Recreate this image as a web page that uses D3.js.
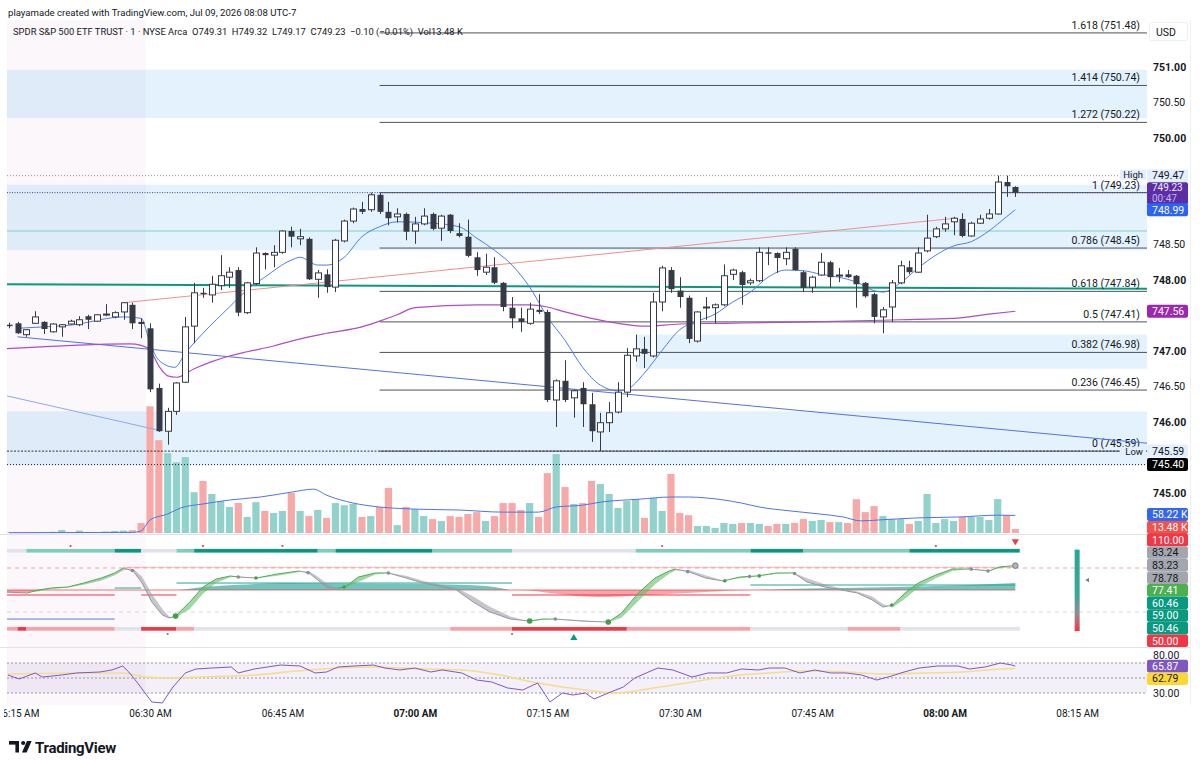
<!DOCTYPE html>
<html>
<head>
<meta charset="utf-8">
<title>SPY 1m</title>
<script src="https://cdn.jsdelivr.net/npm/d3@7/dist/d3.min.js"></script>
<style>
  body { margin: 0; background: #fff; }
  svg text { font-family: Roboto, "Noto Sans", "Liberation Sans", sans-serif; }
</style>
</head>
<body>
<div id="chart"></div>
<script>
// ---- data: one candle per minute, index = minutes after 06:30 ----
const candleIdx = d3.range(-16, 99);
const opens = [
  747.37, 747.39, 747.23, 747.39, 747.41, 747.27, 747.34, 747.38, 747.37, 747.49, 747.42, 747.51, 747.48, 747.55, 747.65, 747.41,
  747.32, 746.48, 745.87, 746.15, 746.56, 747.35, 747.82, 747.79, 747.92, 748.04,
  748.14, 747.54, 747.95, 748.38, 748.35, 748.39, 748.69, 748.58, 748.58, 748.01,
  748.08, 747.90, 748.55, 748.83, 749.00, 748.99, 749.20, 748.96, 748.89, 748.93,
  748.69, 748.79, 748.93, 748.73, 748.92, 748.66, 748.61, 748.32, 748.11, 748.18,
  747.96, 747.61, 747.46, 747.39, 747.58, 747.55, 746.31, 746.58, 746.34, 746.48,
  746.25, 745.86, 745.99, 746.14, 746.42, 746.93, 747.03, 746.93, 747.69, 748.14,
  747.85, 747.75, 747.14, 747.61, 747.61, 747.65, 748.08, 748.11, 747.96, 747.99,
  748.39, 748.38, 748.30, 748.44, 748.11, 747.90, 748.07, 748.25, 748.06, 748.08,
  748.06, 747.96, 747.80, 747.48, 747.62, 747.96, 748.18, 748.11, 748.41, 748.61,
  748.72, 748.82, 748.86, 748.62, 748.80, 748.87, 748.93, 749.38, 749.31
];
const highs = [
  747.40, 747.41, 747.31, 747.56, 747.42, 747.39, 747.38, 747.44, 747.49, 747.51, 747.52, 747.66, 747.56, 747.69, 747.68, 747.46,
  747.39, 746.54, 746.20, 746.56, 747.48, 747.96, 747.89, 748.06, 748.35, 748.18,
  748.18, 747.97, 748.46, 748.39, 748.49, 748.70, 748.75, 748.72, 748.60, 748.14,
  748.15, 748.58, 748.85, 749.02, 749.10, 749.23, 749.23, 749.10, 749.01, 748.95,
  748.89, 749.01, 748.95, 748.92, 748.93, 748.80, 748.85, 748.39, 748.37, 748.32,
  747.97, 747.76, 747.61, 747.68, 747.80, 747.58, 746.60, 746.87, 746.46, 746.56,
  746.41, 746.13, 746.28, 746.56, 747.04, 747.23, 747.20, 747.82, 748.20, 748.18,
  748.04, 747.78, 747.56, 747.76, 747.67, 748.22, 748.16, 748.13, 748.02, 748.46,
  748.46, 748.39, 748.46, 748.46, 748.13, 748.06, 748.38, 748.27, 748.17, 748.14,
  748.07, 747.97, 747.82, 747.62, 748.00, 748.27, 748.27, 748.46, 748.92, 748.75,
  748.89, 748.89, 748.94, 748.82, 748.92, 749.00, 749.47, 749.47, 749.32
];
const lows = [
  747.32, 747.24, 747.20, 747.38, 747.24, 747.26, 747.20, 747.37, 747.35, 747.31, 747.41, 747.49, 747.46, 747.44, 747.31, 747.18,
  746.42, 745.86, 745.68, 746.10, 746.55, 747.11, 747.75, 747.68, 747.86, 747.89,
  747.49, 747.52, 747.93, 748.15, 748.18, 748.37, 748.46, 748.49, 748.00, 747.75,
  747.82, 747.83, 748.53, 748.80, 748.93, 748.96, 748.93, 748.77, 748.81, 748.56,
  748.51, 748.77, 748.70, 748.55, 748.66, 748.60, 748.32, 748.06, 748.07, 747.94,
  747.56, 747.32, 747.27, 747.37, 747.52, 746.28, 745.93, 746.28, 746.06, 745.93,
  745.72, 745.59, 745.86, 746.12, 746.35, 746.85, 746.76, 746.91, 747.56, 747.82,
  747.61, 747.11, 747.12, 747.44, 747.39, 747.63, 748.00, 747.65, 747.93, 747.97,
  748.21, 748.10, 748.21, 748.13, 747.83, 747.82, 748.06, 747.89, 747.97, 748.03,
  747.61, 747.75, 747.39, 747.25, 747.41, 747.94, 748.08, 748.10, 748.39, 748.59,
  748.68, 748.63, 748.60, 748.61, 748.79, 748.85, 748.92, 749.17, 749.17
];
const closes = [
  747.35, 747.25, 747.30, 747.48, 747.31, 747.38, 747.37, 747.42, 747.44, 747.44, 747.51, 747.52, 747.54, 747.68, 747.39, 747.38,
  746.46, 745.87, 746.15, 746.55, 747.34, 747.82, 747.80, 747.94, 748.06, 748.11,
  747.54, 747.96, 748.38, 748.35, 748.39, 748.69, 748.61, 748.61, 748.01, 748.10,
  747.90, 748.56, 748.83, 749.00, 748.96, 749.20, 748.96, 748.87, 748.93, 748.68,
  748.79, 748.90, 748.72, 748.90, 748.69, 748.62, 748.34, 748.14, 748.18, 747.96,
  747.62, 747.46, 747.41, 747.59, 747.55, 746.31, 746.58, 746.31, 746.44, 746.25,
  745.87, 745.99, 746.13, 746.42, 746.94, 747.03, 746.96, 747.69, 748.17, 747.87,
  747.76, 747.17, 747.55, 747.62, 747.65, 748.06, 748.14, 747.93, 747.99, 748.39,
  748.37, 748.31, 748.39, 748.14, 747.89, 748.04, 748.25, 748.04, 748.07, 748.04,
  747.94, 747.77, 747.48, 747.58, 747.96, 748.20, 748.11, 748.38, 748.59, 748.72,
  748.79, 748.87, 748.62, 748.80, 748.86, 748.93, 749.38, 749.32, 749.23
];
// volume in thousands
const volumes = [
  2, 3, 2, 3, 2, 4, 10, 3, 8, 3, 2, 5, 7, 8, 9, 33,
  419, 307, 264, 234, 251, 135, 172, 129, 106, 86,
  99, 53, 102, 73, 66, 73, 132, 73, 56, 76,
  50, 99, 92, 96, 53, 56, 86, 149, 26, 86,
  79, 56, 46, 40, 56, 53, 63, 69, 40, 56,
  99, 99, 76, 99, 53, 198, 261, 152, 96, 99,
  172, 162, 129, 83, 106, 112, 50, 116, 73, 195,
  66, 59, 23, 23, 17, 33, 30, 33, 33, 30,
  23, 30, 30, 33, 46, 40, 43, 36, 36, 33,
  112, 69, 89, 56, 46, 46, 30, 40, 129, 33,
  46, 40, 53, 53, 53, 43, 112, 59, 13.48
];
const volMA = [[-16, 1], [-2, 2], [-1, 7], [0, 43], [2, 63], [3.5, 83], [6, 96], [9, 109], [12.5, 119], [16, 135],
  [18.5, 145], [20, 125], [23, 99], [26, 86], [30, 79], [35, 76], [40, 69], [44, 69], [46, 86], [49, 92], [51, 102],
  [55.5, 112], [59, 119], [61, 119], [63, 116], [65, 109], [67, 99], [69, 86], [72.5, 73], [75.8, 63], [78.5, 53],
  [80.5, 40], [82.5, 43], [87, 50], [91.7, 53], [96, 59], [98, 58.22]];

const emaLine = [[-15, 747.32], [-12, 747.34], [-8, 747.38], [-5.7, 747.44], [-3, 747.48], [-1, 747.46], [0, 747.11],
  [1, 746.87], [2.8, 746.77], [4, 746.97], [6, 747.25], [9, 747.62], [11, 747.86], [13, 748.04], [16, 748.28],
  [17, 748.32], [19, 748.21], [20, 748.21], [22, 748.32], [24, 748.61], [26, 748.75], [28, 748.82], [32, 748.80],
  [35, 748.75], [37, 748.59], [39, 748.42], [41, 748.21], [43, 747.90], [45, 747.48], [47, 747.15], [49, 746.77],
  [51, 746.52], [53, 746.44], [54, 746.46], [56, 746.69], [58, 747.01], [60, 747.30], [62, 747.42], [64, 747.52],
  [66, 747.69], [68, 747.83], [70, 748.04], [72, 748.14], [74, 748.13], [76, 748.08], [78, 748.04], [80, 747.97],
  [82, 747.85], [83, 747.83], [85, 747.96], [87, 748.17], [89, 748.35], [91, 748.48], [93, 748.54], [95, 748.69],
  [97, 748.89], [98, 748.99]];
const vwapLine = [[-16.5, 747.03], [-2.3, 747.10], [-1, 747.08], [0, 747.01], [1.1, 746.77], [2, 746.65], [3, 746.63],
  [5, 746.75], [7, 746.85], [9, 746.93], [11, 746.99], [14, 747.07], [16, 747.14], [18, 747.20], [20, 747.25],
  [24, 747.34], [26, 747.42], [28, 747.51], [30, 747.61], [37, 747.65], [43, 747.65], [45, 747.62], [47, 747.55],
  [50, 747.46], [53, 747.39], [56, 747.35], [60, 747.38], [65, 747.39], [75, 747.41], [85, 747.44], [91, 747.46],
  [95, 747.52], [98, 747.56]];

// drawings on the price pane
const fibRatios = ["0", "0.236", "0.382", "0.5", "0.618", "0.786", "1", "1.272", "1.414", "1.618"];
const fibPrices = [745.59, 746.45, 746.98, 747.41, 747.84, 748.45, 749.23, 750.22, 750.74, 751.48];
const fibStart = 26;
const zoneTops = [750.96, 749.34, 747.23, 746.15];
const zoneBottoms = [750.28, 748.42, 746.75, 745.39];
const zoneStarts = [-16.5, -16.5, 55, -16.5];
const redTrend = [[-3, 747.68], [91.2, 748.87]];
const blueTrend = [[-15, 747.20], [113, 745.70]];
const blueShort = [[-16.3, 746.37], [0.8, 745.89]];
const greenLevel = [[-16.5, 747.94], [113, 747.875]];
const tealLevel = 748.69;
const dayHigh = 749.47, dayLow = 745.59, lastPrice = 749.23, markPrice = 745.40;

// oscillator pane: [index, value, signal]
const oscRows = [
  [-16.2, 47.3, 47.0], [-13.9, 45.9, 46.5], [-12.7, 50.0, 48.0], [-11.2, 52.7, 51.5], [-9.3, 54.1, 53.3],
  [-7.5, 59.5, 57.0], [-5.5, 66.4, 63.0], [-4.0, 73.2, 70.0], [-3.0, 80.0, 77.0], [-1.9, 75.9, 79.0],
  [-0.9, 59.5, 68.0], [0.2, 33.6, 45.0], [1.4, 15.9, 24.0], [2.2, 11.8, 13.5], [2.9, 14.5, 12.0],
  [4.5, 33.6, 24.0], [6.0, 54.1, 45.0], [7.5, 65.0, 60.0], [9.1, 69.1, 67.5], [10.0, 67.7, 68.6],
  [12.1, 66.4, 66.0], [14.4, 71.8, 69.5], [16.9, 75.9, 74.5], [18.0, 73.2, 75.5], [19.0, 63.6, 68.5],
  [20.1, 52.7, 58.0], [21.3, 52.7, 52.0], [22.1, 54.1, 53.0], [23.6, 67.7, 61.0], [25.5, 73.2, 71.0],
  [27.0, 73.2, 73.6], [29.0, 66.4, 69.5], [30.9, 59.5, 62.5], [32.7, 55.5, 57.5], [34.7, 50.0, 53.0],
  [36.6, 33.6, 41.0], [38.5, 20.0, 27.0], [40.8, 10.4, 14.0], [43.0, 7.7, 7.0], [44.5, 10.4, 9.5],
  [45.9, 10.4, 10.8], [48.8, 7.7, 8.6], [51.9, 6.3, 6.0], [53.4, 18.6, 12.0], [55.3, 45.9, 35.0],
  [57.2, 66.4, 58.0], [58.8, 75.9, 72.0], [59.5, 78.6, 76.5], [61.1, 74.6, 77.0], [62.9, 66.4, 70.0],
  [64.9, 62.3, 62.8], [66.8, 67.7, 66.0], [68.7, 69.1, 68.6], [71.0, 73.2, 72.0], [72.9, 73.2, 73.5],
  [74.4, 60.9, 66.0], [76.4, 54.1, 58.0], [78.3, 50.0, 52.0], [80.1, 45.9, 48.0], [81.8, 36.4, 41.0],
  [83.0, 26.8, 31.0], [84.1, 29.5, 26.0], [85.5, 45.9, 38.0], [87.0, 59.5, 53.0], [89.0, 70.5, 66.0],
  [90.9, 78.6, 76.0], [92.8, 78.6, 79.0], [95.0, 75.9, 77.0], [96.2, 81.4, 79.5], [97.9, 83.23, 83.24]
];
const oscPeakDots = [[-2.0, 76.5], [10.0, 67.7], [17.9, 73.5], [27.0, 73.2], [45.9, 10.4], [60.9, 75.0], [67.9, 68.5], [73.0, 72.5], [93.0, 78.5], [94.9, 76.0]];
const oscTroughDots = [[2.9, 14.5, 1], [12.0, 66.4, 0], [22.0, 54.1, 0], [43.0, 7.7, 1], [51.9, 6.3, 1], [65.1, 62.5, 0], [69.0, 69.2, 0], [84.0, 29.5, 0]];
const flowRows = [[-16.5, 47], [-15, 45.5], [-13, 48.5], [-12, 50], [3, 50], [6, 54], [10, 57], [15.5, 59.5], [22, 59],
  [28, 58.5], [35, 57], [39, 54], [41, 50], [42, 50], [46, 45], [50.7, 40.4], [56, 43], [62, 46.5], [68, 50],
  [72, 51.5], [80, 53], [88, 55], [94, 57.5], [98, 59.5]];
const oscLevels = [
  { s: -16.5, e: -4, v: 43.2, c: "#f23645" }, { s: -16.5, e: -4, v: 10.4, c: "#5b7fe0" },
  { s: -4, e: -1, v: 52.7, c: "#26a69a" }, { s: -1, e: 3, v: 43.2, c: "#f23645" },
  { s: 3, e: 41, v: 59.5, c: "#26a69a" }, { s: 41, e: 68, v: 43.2, c: "#f23645" },
  { s: 68, e: 98, v: 56.8, c: "#26a69a" }
];
// state strips: [start, end, kind]
const topStrip = [[-16.5, -14, 0], [-14, -4, 1], [-4, -1, 2], [-1, 3, 0], [3, 5, 1], [5, 19, 2], [19, 21, 1],
  [21, 32, 2], [32, 41, 1], [41, 55, 0], [55, 68, 1], [68, 74, 2], [74, 86, 1], [86, 98.5, 2]];
const bottomStrip = [[-16.5, -15, 1], [-15, -14, 2], [-14, -4, 1], [-4, -1, 0], [-1, 3, 2], [3, 5, 1], [5, 34, 0],
  [34, 41, 1], [41, 54, 2], [54, 68, 1], [68, 79, 0], [79, 85, 1], [85, 98.5, 0]];
const topSignals = [-9, 6, 15, 58, 89];
const bottomSignals = [2, 41];

// RSI pane
const rsiRows = [[-16.1, 54], [-14.8, 48.7], [-13, 56.7], [-12.2, 51.3], [-10, 54], [-8.3, 56.7], [-5.7, 58],
  [-4.3, 60.7], [-3.1, 66], [-2.4, 58], [-1.4, 43.3], [0.2, 18], [1.4, 16.7], [2.6, 38], [4, 56.7], [5.2, 62],
  [7, 63.3], [9.2, 64.7], [10, 56.7], [11.8, 62], [14.8, 67.3], [17, 66], [18.7, 56.7], [20, 58], [21.3, 64.7],
  [23.1, 66], [25.3, 67.3], [26.6, 63.3], [28.3, 60.7], [30, 63.3], [31.8, 58], [33.1, 60.7], [35.3, 56.7],
  [37, 47.3], [38.7, 44.7], [40.5, 36.7], [42.2, 34], [43.9, 43.3], [45.3, 18], [46.7, 30], [47.9, 27.3],
  [49.3, 30], [50.3, 22], [51.9, 30], [53.6, 38], [54.9, 50], [56.2, 56.7], [57.5, 63.3], [59.2, 60.7],
  [61.4, 51.3], [63.2, 56.7], [65.3, 56.7], [67, 62], [68.9, 60.7], [70.1, 63.3], [71.9, 63.3], [73.6, 56.7],
  [75.3, 60.7], [77.1, 56.7], [78.8, 56.7], [80.6, 54], [82.3, 47.3], [84, 52.7], [85.4, 58], [87.1, 63.3],
  [89.2, 66], [91.5, 66], [92.8, 62], [94.6, 64.7], [96.3, 70], [97.6, 67.3], [98, 65.87]];
const rsiMA = [[-16.1, 55.3], [-8.3, 56.7], [-3.1, 56.7], [-0.5, 51.3], [2.2, 50], [5.7, 51.3], [11.8, 54],
  [17.9, 60.7], [24.8, 64.7], [30.9, 62], [35.3, 60.7], [39.6, 54], [43.9, 43.3], [49.3, 34], [52.7, 30],
  [57.1, 36.7], [61.4, 44.7], [65.8, 52.7], [70.1, 56.7], [74.5, 59.3], [78.8, 58], [83.2, 55.3], [87.5, 56.7],
  [92, 58], [96.3, 62], [98, 62.79]];

// ---- layout ----
const paneL = 7, paneR = 1147;
const mainTop = 20, mainBot = 534, oscBot = 647, rsiBot = 705;
const barPx = 8.83;
const t0 = new Date(2026, 6, 9, 6, 30);
const tm = i => new Date(t0.getTime() + i * 60000);
const x = d3.scaleTime().domain([tm(0), tm(105)]).range([150, 150 + 105 * barPx]);
const xi = i => x(tm(i));
const y = d3.scaleLinear().domain([745, 751]).range([493, 67]);
const yVol = d3.scaleLinear().domain([0, 420]).range([533, 406]);
const yOsc = d3.scaleLinear().domain([50, 80]).range([590, 568]);
const yRsi = d3.scaleLinear().domain([30, 70]).range([693, 663]);
const ink = "#131722";

const svg = d3.select("#chart").append("svg")
  .attr("width", 1200).attr("height", 769).style("display", "block");
const defs = svg.append("defs");
function clip(id, x0, y0, x1, y1) {
  defs.append("clipPath").attr("id", id).append("rect")
    .attr("x", x0).attr("y", y0).attr("width", x1 - x0).attr("height", y1 - y0);
}
clip("cMain", paneL, mainTop, paneR, mainBot);
clip("cOsc", paneL, mainBot, paneR, oscBot);
clip("cRsi", paneL, oscBot, paneR, rsiBot);
clip("cTime", 4, rsiBot, paneR, 730);

// pre-market shading across all panes
svg.append("rect").attr("x", paneL).attr("y", mainTop)
  .attr("width", xi(-0.5) - paneL).attr("height", rsiBot - mainTop).attr("fill", "#fbf7fa");

// ---------------- price pane ----------------
const main = svg.append("g").attr("clip-path", "url(#cMain)");

main.selectAll(".zone").data(zoneTops).join("rect")
  .attr("x", (d, k) => xi(zoneStarts[k])).attr("width", (d, k) => paneR - xi(zoneStarts[k]))
  .attr("y", d => y(d)).attr("height", (d, k) => y(zoneBottoms[k]) - y(d))
  .attr("fill", "rgba(33,150,243,0.12)");

const bars = candleIdx.map((i, k) => ({ i, o: opens[k], h: highs[k], l: lows[k], c: closes[k], v: volumes[k] }));

main.append("g").selectAll("rect").data(bars).join("rect")
  .attr("x", d => xi(d.i) - 3.6).attr("width", 7.2)
  .attr("y", d => yVol(d.v)).attr("height", d => yVol(0) - yVol(d.v))
  .attr("fill", d => d.c >= d.o ? "#92d2cc" : "#f7a9a7");

const lineOf = (sy) => d3.line().x(d => xi(d[0])).y(d => sy(d[1]));
main.append("path").attr("d", lineOf(yVol).curve(d3.curveMonotoneX)(volMA))
  .attr("fill", "none").attr("stroke", "#4d74e8").attr("stroke-width", 1);

// horizontal levels
main.append("line").attr("x1", paneL).attr("x2", paneR).attr("y1", y(tealLevel)).attr("y2", y(tealLevel))
  .attr("stroke", "#7fcfc8").attr("stroke-width", 1);
main.append("path").attr("d", lineOf(y)(greenLevel)).attr("stroke", "#089981").attr("stroke-width", 2).attr("fill", "none");

// fib retracement
main.selectAll(".fib").data(fibPrices).join("line")
  .attr("x1", xi(fibStart)).attr("x2", paneR).attr("y1", d => y(d)).attr("y2", d => y(d))
  .attr("stroke", "#4f525c").attr("stroke-width", 1);
main.selectAll(".fibl").data(fibPrices).join("text")
  .attr("x", 1140).attr("y", d => y(d) - 4).attr("text-anchor", "end")
  .attr("font-size", 10.5).attr("fill", ink)
  .text((d, k) => `${fibRatios[k]} (${d.toFixed(2)})`);

// dotted reference lines
function hline(p, color, dash) {
  main.append("line").attr("x1", paneL).attr("x2", paneR).attr("y1", y(p)).attr("y2", y(p))
    .attr("stroke", color).attr("stroke-dasharray", dash).attr("stroke-width", 1);
}
hline(dayHigh, "#9598a1", "1,2");
hline(lastPrice, "#4b3b7a", "1,1.5");
hline(dayLow, "#333", "2,1.5");
hline(markPrice, "#222", "1,2");

// trend lines
main.append("path").attr("d", lineOf(y)(redTrend)).attr("stroke", "#f28e8b").attr("stroke-width", 1).attr("fill", "none");
main.append("path").attr("d", lineOf(y)(blueTrend)).attr("stroke", "#5273e0").attr("stroke-width", 1).attr("fill", "none");
main.append("path").attr("d", lineOf(y)(blueShort)).attr("stroke", "#8fa6ee").attr("stroke-width", 1).attr("fill", "none");

// moving averages
main.append("path").attr("d", lineOf(y).curve(d3.curveMonotoneX)(vwapLine))
  .attr("stroke", "#b04cc4").attr("stroke-width", 1.2).attr("fill", "none");
main.append("path").attr("d", lineOf(y).curve(d3.curveMonotoneX)(emaLine))
  .attr("stroke", "#4a7ee6").attr("stroke-width", 1).attr("fill", "none");

// candles
const cg = main.append("g");
cg.selectAll("line").data(bars).join("line")
  .attr("x1", d => Math.round(xi(d.i)) + 0.5).attr("x2", d => Math.round(xi(d.i)) + 0.5)
  .attr("y1", d => y(d.h)).attr("y2", d => y(d.l))
  .attr("stroke", "#363a45").attr("stroke-width", 1);
cg.selectAll("rect").data(bars).join("rect")
  .attr("x", d => Math.round(xi(d.i)) - 2.5).attr("width", 6)
  .attr("y", d => y(Math.max(d.o, d.c))).attr("height", d => Math.max(1, Math.abs(y(d.o) - y(d.c))))
  .attr("fill", d => d.c >= d.o ? "#ffffff" : "#363a45")
  .attr("stroke", "#363a45").attr("stroke-width", d => d.c >= d.o ? 1 : 0);

// High / Low captions
[[dayHigh, "High", -1], [dayLow, "Low", 0.5]].forEach(([p, t, dy]) => {
  svg.append("rect").attr("x", 1120).attr("y", y(p) - 5 + dy).attr("width", 26).attr("height", 10).attr("fill", "#e3effd");
  svg.append("text").attr("x", 1143).attr("y", y(p) + 3.3 + dy).attr("text-anchor", "end")
    .attr("font-size", 9.5).attr("fill", ink).text(t);
});

// ---------------- oscillator pane ----------------
const osc = svg.append("g").attr("clip-path", "url(#cOsc)");
osc.append("line").attr("x1", paneL).attr("x2", paneR).attr("y1", yOsc(80)).attr("y2", yOsc(80))
  .attr("stroke", "rgba(242,54,69,0.45)").attr("stroke-dasharray", "4,4");
osc.append("line").attr("x1", paneL).attr("x2", paneR).attr("y1", yOsc(20)).attr("y2", yOsc(20))
  .attr("stroke", "#d6d8de").attr("stroke-dasharray", "4,4");
osc.append("line").attr("x1", xi(-3)).attr("x2", xi(98)).attr("y1", yOsc(81)).attr("y2", yOsc(81))
  .attr("stroke", "rgba(242,54,69,0.35)");

const flowArea = (fn) => d3.area().x(d => xi(d[0])).y0(yOsc(50)).y1(d => yOsc(fn(d[1]))).curve(d3.curveMonotoneX);
osc.append("path").attr("d", flowArea(v => Math.max(v, 50))(flowRows)).attr("fill", "rgba(38,166,154,0.65)");
osc.append("path").attr("d", flowArea(v => Math.min(v, 50))(flowRows)).attr("fill", "rgba(242,54,69,0.45)");
osc.append("line").attr("x1", xi(-16.5)).attr("x2", xi(98)).attr("y1", yOsc(50)).attr("y2", yOsc(50))
  .attr("stroke", "rgba(242,54,69,0.7)");

osc.selectAll(".lvl").data(oscLevels).join("line")
  .attr("x1", d => xi(d.s)).attr("x2", d => xi(d.e)).attr("y1", d => yOsc(d.v)).attr("y2", d => yOsc(d.v))
  .attr("stroke", d => d.c).attr("stroke-width", 1);

// ribbon between oscillator and its signal
for (let k = 0; k < oscRows.length - 1; k++) {
  const seg = [oscRows[k], oscRows[k + 1]];
  const up = (seg[0][1] + seg[1][1]) >= (seg[0][2] + seg[1][2]);
  osc.append("path")
    .attr("d", d3.area().x(d => xi(d[0])).y0(d => yOsc(d[2])).y1(d => yOsc(d[1]))(seg))
    .attr("fill", up ? "rgba(102,187,106,0.6)" : "rgba(150,152,160,0.55)");
  osc.append("path")
    .attr("d", d3.line().x(d => xi(d[0])).y(d => yOsc(d[1]))(seg))
    .attr("fill", "none").attr("stroke", up ? "#4caf50" : "#9598a1").attr("stroke-width", 1);
}
osc.selectAll(".pk").data(oscPeakDots).join("circle")
  .attr("cx", d => xi(d[0])).attr("cy", d => yOsc(d[1])).attr("r", 1.8).attr("fill", "#8a8d96");
osc.selectAll(".tr").data(oscTroughDots).join("circle")
  .attr("cx", d => xi(d[0])).attr("cy", d => yOsc(d[1])).attr("r", d => d[2] ? 2.8 : 1.8).attr("fill", "#43a047");
const lastOsc = oscRows[oscRows.length - 1];
osc.append("circle").attr("cx", xi(98)).attr("cy", yOsc(lastOsc[1])).attr("r", 2.8)
  .attr("fill", "#b2b5be").attr("stroke", "#787b86").attr("stroke-width", 1);

const topColors = ["#e0e3eb", "#7fcdc0", "#089981"];
const botColors = ["#e0e3eb", "#f7a1a8", "#f23645"];
osc.selectAll(".ts").data(topStrip).join("rect")
  .attr("x", d => xi(d[0])).attr("width", d => xi(d[1]) - xi(d[0]))
  .attr("y", yOsc(106)).attr("height", yOsc(101) - yOsc(106)).attr("fill", d => topColors[d[2]]);
osc.selectAll(".bs").data(bottomStrip).join("rect")
  .attr("x", d => xi(d[0])).attr("width", d => xi(d[1]) - xi(d[0]))
  .attr("y", yOsc(-0.5)).attr("height", yOsc(-5.5) - yOsc(-0.5)).attr("fill", d => botColors[d[2]]);
osc.selectAll(".tsd").data(topSignals).join("circle")
  .attr("cx", d => xi(d)).attr("cy", yOsc(110)).attr("r", 1.1).attr("fill", "#f23645");
osc.selectAll(".bsd").data(bottomSignals).join("circle")
  .attr("cx", d => xi(d)).attr("cy", yOsc(-10)).attr("r", 1.1).attr("fill", "#787b86");
const tri = d3.symbol().type(d3.symbolTriangle).size(22);
osc.append("path").attr("d", tri()).attr("transform", `translate(${xi(48)},${yOsc(-15.5)})`).attr("fill", "#089981");
osc.append("path").attr("d", tri()).attr("transform", `translate(${xi(98)},${yOsc(116.5)}) rotate(180)`).attr("fill", "#f23645");

// gauge on the right of the oscillator pane
const grad = defs.append("linearGradient").attr("id", "gauge").attr("x1", 0).attr("x2", 0).attr("y1", 0).attr("y2", 1);
[[0, "#26a69a"], [0.55, "#3fa596"], [0.78, "#8d8f95"], [1, "#f23645"]]
  .forEach(([o, c]) => grad.append("stop").attr("offset", o).attr("stop-color", c));
osc.append("rect").attr("x", xi(105) - 2.5).attr("width", 5)
  .attr("y", yOsc(105)).attr("height", yOsc(-6) - yOsc(105)).attr("fill", "url(#gauge)");
osc.append("path").attr("d", d3.symbol().type(d3.symbolTriangle).size(8)())
  .attr("transform", `translate(${xi(106.2)},${yOsc(63.6)}) rotate(-90)`).attr("fill", "#787b86");

// ---------------- RSI pane ----------------
const rsi = svg.append("g").attr("clip-path", "url(#cRsi)");
rsi.append("rect").attr("x", paneL).attr("width", paneR - paneL)
  .attr("y", yRsi(70)).attr("height", yRsi(30) - yRsi(70)).attr("fill", "rgba(126,87,194,0.09)");
rsi.selectAll(".rl").data([70, 50, 30]).join("line")
  .attr("x1", paneL).attr("x2", paneR).attr("y1", d => yRsi(d)).attr("y2", d => yRsi(d))
  .attr("stroke", "#9598a1").attr("stroke-dasharray", "2,2");
rsi.append("path").attr("d", lineOf(yRsi).curve(d3.curveMonotoneX)(rsiMA))
  .attr("fill", "none").attr("stroke", "#f6dc8c").attr("stroke-width", 1.6);
rsi.append("path").attr("d", lineOf(yRsi)(rsiRows))
  .attr("fill", "none").attr("stroke", "#7e57c2").attr("stroke-width", 1);

// pane separators and frame
[mainBot, oscBot].forEach(v => svg.append("line").attr("x1", 0).attr("x2", 1190).attr("y1", v + 0.5).attr("y2", v + 0.5).attr("stroke", "#e0e3eb"));
svg.append("line").attr("x1", 1190.5).attr("x2", 1190.5).attr("y1", mainTop).attr("y2", rsiBot).attr("stroke", "#eef0f3");

// ---------------- right scale ----------------
const fmt = d3.format(".2f");
const tagPrices = [dayHigh, lastPrice, 748.99, 747.56, dayLow, markPrice];
const priceTicks = d3.range(745, 751.01, 0.5).filter(p => tagPrices.every(q => Math.abs(y(p) - y(q)) > 9));
const ax = svg.append("g").attr("transform", `translate(${paneR},0)`)
  .call(d3.axisRight(y).tickValues(priceTicks).tickFormat(fmt).tickSize(0).tickPadding(6));
ax.select(".domain").remove();
ax.selectAll("text").attr("font-size", 10.5).attr("fill", ink)
  .attr("font-weight", d => Math.abs(d - Math.round(d)) < 1e-6 ? 700 : 400);

function tag(cy, text, bg, fg, h = 13) {
  svg.append("rect").attr("x", paneR).attr("y", cy - h / 2).attr("width", 41).attr("height", h).attr("rx", 2).attr("fill", bg);
  svg.append("text").attr("x", paneR + 5).attr("y", cy + 3.8).attr("font-size", 10.5).attr("fill", fg).text(text);
}
tag(y(dayHigh), fmt(dayHigh), "#e3effd", ink);
// current price with countdown
const cpTop = y(dayHigh) + 6.5;
svg.append("rect").attr("x", paneR).attr("y", cpTop).attr("width", 41).attr("height", 22.5).attr("rx", 2).attr("fill", "#5b2ea6");
svg.append("text").attr("x", paneR + 5).attr("y", cpTop + 9.2).attr("font-size", 10).attr("fill", "#f1eaff").text(fmt(lastPrice));
svg.append("text").attr("x", paneR + 5).attr("y", cpTop + 20).attr("font-size", 10).attr("fill", "#c7b2ef").text("00:47");
tag(y(748.99), "748.99", "#2962ff", "#fff");
tag(y(747.56), "747.56", "#9c27b0", "#fff");
tag(y(dayLow), fmt(dayLow), "#e3effd", ink);
tag(y(markPrice), fmt(markPrice), "#000", "#fff");

function stackTags(list, scale, hi, h) {
  const items = list.map(d => Object.assign({}, d, { cy: scale(d.v) })).sort((a, b) => a.cy - b.cy);
  for (let k = 1; k < items.length; k++) items[k].cy = Math.max(items[k].cy, items[k - 1].cy + h);
  const n = items.length;
  if (items[n - 1].cy > hi - h / 2) {
    items[n - 1].cy = hi - h / 2;
    for (let k = n - 2; k >= 0; k--) items[k].cy = Math.min(items[k].cy, items[k + 1].cy - h);
  }
  return items;
}
stackTags([{ v: 58.22, t: "58.22 K", bg: "#3566f2", fg: "#fff" }, { v: 13.48, t: "13.48 K", bg: "#ef5350", fg: "#fff" }], yVol, mainBot, 13)
  .forEach(d => tag(d.cy, d.t, d.bg, d.fg));
const oscTags = [
  { v: 110, bg: "#f23645", fg: "#fff" }, { v: 83.24, bg: "#a3a6af", fg: ink }, { v: 83.23, bg: "#a3a6af", fg: ink },
  { v: 78.78, bg: "#a3a6af", fg: ink }, { v: 77.41, bg: "#4caf50", fg: "#fff" }, { v: 60.46, bg: "#089981", fg: "#fff" },
  { v: 59.00, bg: "#089981", fg: "#fff" }, { v: 50.46, bg: "#089981", fg: "#fff" }, { v: 50.00, bg: "#f23645", fg: "#fff" }
];
stackTags(oscTags, yOsc, oscBot, 12.6).forEach(d => tag(d.cy, fmt(d.v), d.bg, d.fg, 12.6));

const rax = svg.append("g").attr("transform", `translate(${paneR},0)`)
  .call(d3.axisRight(yRsi).tickValues([80, 30]).tickFormat(fmt).tickSize(0).tickPadding(6));
rax.select(".domain").remove();
rax.selectAll("text").attr("font-size", 10.5).attr("fill", ink);
stackTags([{ v: 65.87, bg: "#7e57c2", fg: "#fff" }, { v: 62.79, bg: "#fdd835", fg: ink }], yRsi, rsiBot, 12.6)
  .forEach(d => tag(d.cy, fmt(d.v), d.bg, d.fg, 12.6));

// USD box
svg.append("rect").attr("x", 1149.5).attr("y", 22.5).attr("width", 38).attr("height", 18).attr("rx", 2)
  .attr("fill", "#fff").attr("stroke", "#eceef2");
svg.append("text").attr("x", 1156).attr("y", 35.5).attr("font-size", 10.5).attr("fill", ink).text("USD");

// ---------------- time axis ----------------
const tickTimes = d3.range(-15, 106, 15).map(tm);
const tx = svg.append("g").attr("clip-path", "url(#cTime)")
  .append("g").attr("transform", `translate(0,${rsiBot + 2})`)
  .call(d3.axisBottom(x).tickValues(tickTimes).tickFormat(d3.timeFormat("%I:%M %p")).tickSize(0).tickPadding(3));
tx.select(".domain").remove();
tx.selectAll("text").attr("font-size", 10).attr("fill", ink)
  .attr("font-weight", d => d.getMinutes() === 0 ? 700 : 400);

// ---------------- header ----------------
svg.append("text").attr("x", 8).attr("y", 15.5).attr("font-size", 9.6).attr("fill", ink)
  .text("playamade created with TradingView.com, Jul 09, 2026 08:08 UTC-7");
svg.append("text").attr("x", 13).attr("y", 34.5).attr("font-size", 9.4).attr("fill", ink)
  .style("white-space", "pre")
  .text("SPDR S&P 500 ETF TRUST \u00b7 1 \u00b7 NYSE Arca  O749.31  H749.32  L749.17  C749.23  \u22120.10 (\u22120.01%)  Vol13.48 K");

// ---------------- logo ----------------
const logo = svg.append("g").attr("fill", ink);
logo.append("rect").attr("x", 9).attr("y", 741).attr("width", 10).attr("height", 3.6);
logo.append("rect").attr("x", 15.4).attr("y", 741).attr("width", 3.6).attr("height", 11.5);
logo.append("circle").attr("cx", 23.2).attr("cy", 743).attr("r", 2.1);
logo.append("path").attr("d", "M27,741 L31.6,741 L26.6,752.5 L22,752.5 Z");
svg.append("text").attr("x", 35).attr("y", 752.5).attr("font-size", 15).attr("font-weight", 700)
  .attr("letter-spacing", -0.3).attr("fill", ink).text("TradingView");
</script>
</body>
</html>
